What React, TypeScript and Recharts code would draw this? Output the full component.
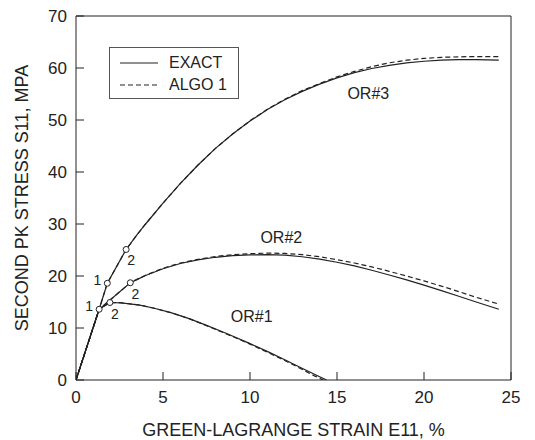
import React from "react";
import {
  ComposedChart,
  Line,
  Scatter,
  XAxis,
  YAxis,
  Legend,
  ReferenceLine,
} from "recharts";

// ---------- data ----------
const xTicks = [0, 5, 10, 15, 20, 25];
const yTicks = [0, 10, 20, 30, 40, 50, 60, 70];

const or1Exact = [
  { x: 0, y: 0 }, { x: 1.33, y: 13.6 }, { x: 1.95, y: 14.9 }, { x: 2.6, y: 14.85 },
  { x: 3.67, y: 14.4 }, { x: 4.5, y: 13.8 }, { x: 5.5, y: 12.9 }, { x: 6.5, y: 11.8 },
  { x: 7.36, y: 10.7 }, { x: 8.55, y: 9.1 }, { x: 9.94, y: 7.1 }, { x: 11.05, y: 5.4 },
  { x: 12.0, y: 3.9 }, { x: 12.9, y: 2.4 }, { x: 13.7, y: 1.1 }, { x: 14.4, y: 0 },
];
const or1Algo = [
  { x: 0, y: 0 }, { x: 1.33, y: 13.6 }, { x: 1.95, y: 14.9 }, { x: 2.6, y: 14.85 },
  { x: 3.67, y: 14.4 }, { x: 4.5, y: 13.8 }, { x: 5.5, y: 12.9 }, { x: 6.5, y: 11.8 },
  { x: 7.36, y: 10.65 }, { x: 8.55, y: 9.0 }, { x: 9.94, y: 7.0 }, { x: 11.05, y: 5.25 },
  { x: 12.0, y: 3.75 }, { x: 12.9, y: 2.2 }, { x: 13.7, y: 0.8 }, { x: 14.2, y: 0 },
];

const or2Exact = [
  { x: 0, y: 0 }, { x: 1.33, y: 13.6 }, { x: 3.12, y: 18.7 }, { x: 3.5, y: 19.3 },
  { x: 4, y: 20.1 }, { x: 5, y: 21.4 }, { x: 6, y: 22.4 }, { x: 7, y: 23.1 },
  { x: 8, y: 23.6 }, { x: 9, y: 23.9 }, { x: 10, y: 24.05 }, { x: 11, y: 24.1 },
  { x: 12, y: 24.0 }, { x: 13, y: 23.7 }, { x: 14, y: 23.25 }, { x: 15, y: 22.65 },
  { x: 16, y: 21.95 }, { x: 17, y: 21.1 }, { x: 18, y: 20.2 }, { x: 19, y: 19.25 },
  { x: 20, y: 18.25 }, { x: 21, y: 17.2 }, { x: 22, y: 16.1 }, { x: 23, y: 15.0 },
  { x: 24.3, y: 13.6 },
];
const or2Algo = [
  { x: 0, y: 0 }, { x: 1.33, y: 13.6 }, { x: 3.12, y: 18.7 }, { x: 3.5, y: 19.35 },
  { x: 4, y: 20.15 }, { x: 5, y: 21.5 }, { x: 6, y: 22.5 }, { x: 7, y: 23.2 },
  { x: 8, y: 23.75 }, { x: 9, y: 24.1 }, { x: 10, y: 24.3 }, { x: 11, y: 24.4 },
  { x: 12, y: 24.35 }, { x: 13, y: 24.1 }, { x: 14, y: 23.7 }, { x: 15, y: 23.15 },
  { x: 16, y: 22.5 }, { x: 17, y: 21.75 }, { x: 18, y: 20.9 }, { x: 19, y: 20.0 },
  { x: 20, y: 19.05 }, { x: 21, y: 18.05 }, { x: 22, y: 17.0 }, { x: 23, y: 15.9 },
  { x: 24.3, y: 14.6 },
];

const or3Exact = [
  { x: 0, y: 0 }, { x: 1.33, y: 13.6 }, { x: 1.8, y: 18.6 }, { x: 2.88, y: 25.1 },
  { x: 3.5, y: 27.9 }, { x: 4, y: 30.0 }, { x: 5, y: 34.0 }, { x: 6, y: 37.8 },
  { x: 7, y: 41.3 }, { x: 8, y: 44.5 }, { x: 9, y: 47.3 }, { x: 10, y: 49.8 },
  { x: 11, y: 52.0 }, { x: 12, y: 53.9 }, { x: 13, y: 55.5 }, { x: 14, y: 56.9 },
  { x: 15, y: 58.1 }, { x: 16, y: 59.1 }, { x: 17, y: 59.9 }, { x: 18, y: 60.5 },
  { x: 19, y: 61.0 }, { x: 20, y: 61.3 }, { x: 21, y: 61.5 }, { x: 22, y: 61.6 },
  { x: 23, y: 61.6 }, { x: 24.3, y: 61.5 },
];
const or3Algo = [
  { x: 0, y: 0 }, { x: 1.33, y: 13.6 }, { x: 1.8, y: 18.6 }, { x: 2.88, y: 25.1 },
  { x: 3.5, y: 27.9 }, { x: 4, y: 30.0 }, { x: 5, y: 34.0 }, { x: 6, y: 37.8 },
  { x: 7, y: 41.3 }, { x: 8, y: 44.5 }, { x: 9, y: 47.3 }, { x: 10, y: 49.85 },
  { x: 11, y: 52.05 }, { x: 12, y: 54.0 }, { x: 13, y: 55.65 }, { x: 14, y: 57.0 },
  { x: 15, y: 58.3 }, { x: 16, y: 59.35 }, { x: 17, y: 60.25 }, { x: 18, y: 61.0 },
  { x: 19, y: 61.5 }, { x: 20, y: 61.85 }, { x: 21, y: 62.05 }, { x: 22, y: 62.15 },
  { x: 23, y: 62.2 }, { x: 24.3, y: 62.2 },
];

const markersOne = [
  { x: 1.33, y: 13.6, label: "1" },
  { x: 1.8, y: 18.6, label: "1" },
];
const markersTwo = [
  { x: 1.95, y: 14.9, label: "2" },
  { x: 3.12, y: 18.7, label: "2" },
  { x: 2.88, y: 25.1, label: "2" },
];
const curveNames = [
  { x: 10.1, y: 12.2, label: "OR#1" },
  { x: 11.8, y: 27.5, label: "OR#2" },
  { x: 16.8, y: 55.1, label: "OR#3" },
];

const legendItems = [
  { name: "EXACT", dashed: false },
  { name: "ALGO 1", dashed: true },
];

// ---------- styles ----------
const INK = "#222";
const FONT = "'Liberation Sans', Arial, Helvetica, sans-serif";
const DASH = "5 3";

const XTick = (props: any) => {
  const { x, y, payload } = props;
  return (
    <g>
      <line x1={x} y1={y} x2={x} y2={y - 8} stroke={INK} strokeWidth={1} />
      <text x={x} y={y + 17} textAnchor="middle" dominantBaseline="central" fontSize={17} fontFamily={FONT} fill={INK}>
        {payload.value}
      </text>
    </g>
  );
};

const YTick = (props: any) => {
  const { x, y, payload } = props;
  return (
    <g>
      <line x1={x} y1={y} x2={x + 8} y2={y} stroke={INK} strokeWidth={1} />
      <text x={x - 9} y={y} textAnchor="end" dominantBaseline="central" fontSize={17} fontFamily={FONT} fill={INK}>
        {payload.value}
      </text>
    </g>
  );
};

const MarkerLeft = (props: any) => {
  const { cx, cy, payload } = props;
  return (
    <g>
      <circle cx={cx} cy={cy} r={3} fill="#fff" stroke={INK} strokeWidth={1} />
      <text x={cx - 10} y={cy - 3} textAnchor="middle" dominantBaseline="central" fontSize={14} fontFamily={FONT} fill={INK}>
        {payload.label}
      </text>
    </g>
  );
};

const MarkerBelow = (props: any) => {
  const { cx, cy, payload } = props;
  return (
    <g>
      <circle cx={cx} cy={cy} r={3} fill="#fff" stroke={INK} strokeWidth={1} />
      <text x={cx + 5} y={cy + 11} textAnchor="middle" dominantBaseline="central" fontSize={14} fontFamily={FONT} fill={INK}>
        {payload.label}
      </text>
    </g>
  );
};

const CurveName = (props: any) => {
  const { cx, cy, payload } = props;
  return (
    <text x={cx} y={cy} textAnchor="middle" dominantBaseline="central" fontSize={16} fontFamily={FONT} fill={INK}>
      {payload.label}
    </text>
  );
};

const LegendBox = () => (
  <div
    style={{
      border: "1px solid #555",
      width: 130,
      height: 52,
      boxSizing: "border-box",
      background: "#fff",
      fontFamily: FONT,
      fontSize: 16,
      color: INK,
      position: "relative",
    }}
  >
    {legendItems.map((it, i) => (
      <div
        key={it.name}
        style={{ position: "absolute", left: 10, top: 5 + i * 22, height: 20, display: "flex", alignItems: "center" }}
      >
        <svg width={38} height={4} style={{ display: "block" }}>
          <line x1={0} y1={2} x2={38} y2={2} stroke={INK} strokeWidth={1.2} strokeDasharray={it.dashed ? DASH : undefined} />
        </svg>
        <span style={{ marginLeft: 11, lineHeight: "20px" }}>{it.name}</span>
      </div>
    ))}
  </div>
);

export default function App() {
  const series = [
    { data: or1Exact, dashed: false, key: "or1e" },
    { data: or1Algo, dashed: true, key: "or1a" },
    { data: or2Exact, dashed: false, key: "or2e" },
    { data: or2Algo, dashed: true, key: "or2a" },
    { data: or3Exact, dashed: false, key: "or3e" },
    { data: or3Algo, dashed: true, key: "or3a" },
  ];
  return (
    <ComposedChart
      width={527}
      height={432}
      margin={{ top: 8, right: 24, left: 0, bottom: 0 }}
      style={{ fontFamily: FONT }}
    >
      <XAxis
        type="number"
        dataKey="x"
        domain={[0, 25]}
        ticks={xTicks}
        interval={0}
        height={60}
        tickSize={0}
        tickMargin={0}
        tickLine={false}
        tick={<XTick />}
        axisLine={{ stroke: INK, strokeWidth: 1 }}
        allowDataOverflow
        label={{
          value: "GREEN-LAGRANGE STRAIN E11, %",
          position: "insideBottom",
          offset: 4,
          style: { fontSize: 18, fill: INK, fontFamily: FONT },
        }}
      />
      <YAxis
        type="number"
        dataKey="y"
        domain={[0, 70]}
        ticks={yTicks}
        interval={0}
        width={68}
        tickSize={0}
        tickMargin={0}
        tickLine={false}
        tick={<YTick />}
        axisLine={{ stroke: INK, strokeWidth: 1 }}
        allowDataOverflow
        label={{
          value: "SECOND PK STRESS S11, MPA",
          angle: -90,
          position: "insideLeft",
          offset: 14,
          style: { fontSize: 18, fill: INK, fontFamily: FONT, textAnchor: "middle" },
        }}
      />
      <ReferenceLine y={70} stroke={INK} strokeWidth={1} />
      <ReferenceLine x={25} stroke={INK} strokeWidth={1} />
      {series.map((s) => (
        <Line
          key={s.key}
          data={s.data}
          dataKey="y"
          type="linear"
          stroke={INK}
          strokeWidth={1.2}
          strokeDasharray={s.dashed ? DASH : undefined}
          dot={false}
          activeDot={false}
          isAnimationActive={false}
          legendType="none"
        />
      ))}
      <Scatter data={markersOne} dataKey="y" shape={<MarkerLeft />} isAnimationActive={false} legendType="none" />
      <Scatter data={markersTwo} dataKey="y" shape={<MarkerBelow />} isAnimationActive={false} legendType="none" />
      <Scatter data={curveNames} dataKey="y" shape={<CurveName />} isAnimationActive={false} legendType="none" />
      <Legend
        layout="vertical"
        align="center"
        verticalAlign="middle"
        content={<LegendBox />}
        wrapperStyle={{ left: 101, top: 39, width: 130, height: 52 }}
      />
    </ComposedChart>
  );
}
